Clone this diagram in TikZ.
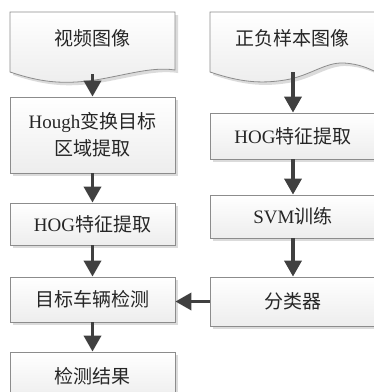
\documentclass[tikz,border=0pt]{standalone}
\usepackage{fontspec}
\setmainfont{Liberation Serif}
\newfontfamily\cjk{Noto Sans CJK SC}
\usetikzlibrary{arrows.meta,shadows}
\definecolor{boxline}{HTML}{8C8C8C}
\definecolor{arr}{HTML}{404040}
\tikzset{
  boxbase/.style={draw=boxline, line width=0.8pt, top color=white, bottom color=gray!14,
    drop shadow={fill=gray!28, shadow xshift=3pt, shadow yshift=-3pt, opacity=1}},
  lbl/.style={font=\cjk\fontsize{19}{27}\selectfont, align=center, inner sep=0pt, text=black!85},
  procbox/.style={boxbase, lbl, rectangle, minimum width=165pt},
  flow/.style={draw=arr, line width=3.5pt, -{Triangle[length=16pt,width=17pt]}, arr},
}
\begin{document}
\begin{tikzpicture}[x=1pt,y=-1pt]
\useasboundingbox (0,0) rectangle (374,392);
\clip (0,0) rectangle (374,392);
% document shapes
\path[boxbase] (10,12) -- (10,72) .. controls (40,82) and (60,84) .. (88,81)
  .. controls (120,77) and (150,66) .. (175,70) -- (175,12) -- cycle;
\node[lbl] (v1) at (92.5,38) {视频图像};
\coordinate (v1b) at (92.5,74);
\path[boxbase] (210,12) -- (210,72) .. controls (240,82) and (260,84) .. (285,80)
  .. controls (310,76) and (325,62) .. (344,63) .. controls (360,64) and (370,69) .. (376,72)
  -- (376,12) -- cycle;
\node[lbl] (r1) at (293,38) {正负样本图像};
\coordinate (r1b) at (293,72);
% left column
\node[procbox, minimum height=76pt] (v2) at (92.5,135) {{\rmfamily Hough}变换目标\\区域提取};
\node[procbox, minimum height=42pt] (v3) at (92.5,224) {{\rmfamily HOG}特征提取};
\node[procbox, minimum height=45pt] (v4) at (92.5,299.5) {目标车辆检测};
\node[procbox, minimum height=48pt] (v5) at (92.5,376) {检测结果};
% right column
\node[procbox, minimum width=166pt, minimum height=46pt] (r2) at (293,136) {{\rmfamily HOG}特征提取};
\node[procbox, minimum width=166pt, minimum height=43pt] (r3) at (293,216.5) {{\rmfamily SVM}训练};
\node[procbox, minimum width=166pt, minimum height=49pt] (r4) at (293,301.5) {分类器};
% connectors
\draw[flow] (v1b) -- (v2.north);
\draw[flow] (v2.south) -- (v3.north);
\draw[flow] (v3.south) -- (v4.north);
\draw[flow] (v4.south) -- (v5.north);
\draw[flow] (r1b) -- (r2.north);
\draw[flow] (r2.south) -- (r3.north);
\draw[flow] (r3.south) -- (r4.north);
\draw[flow] (r4.west) -- (r4.west -| v4.east);
\end{tikzpicture}
\end{document}
